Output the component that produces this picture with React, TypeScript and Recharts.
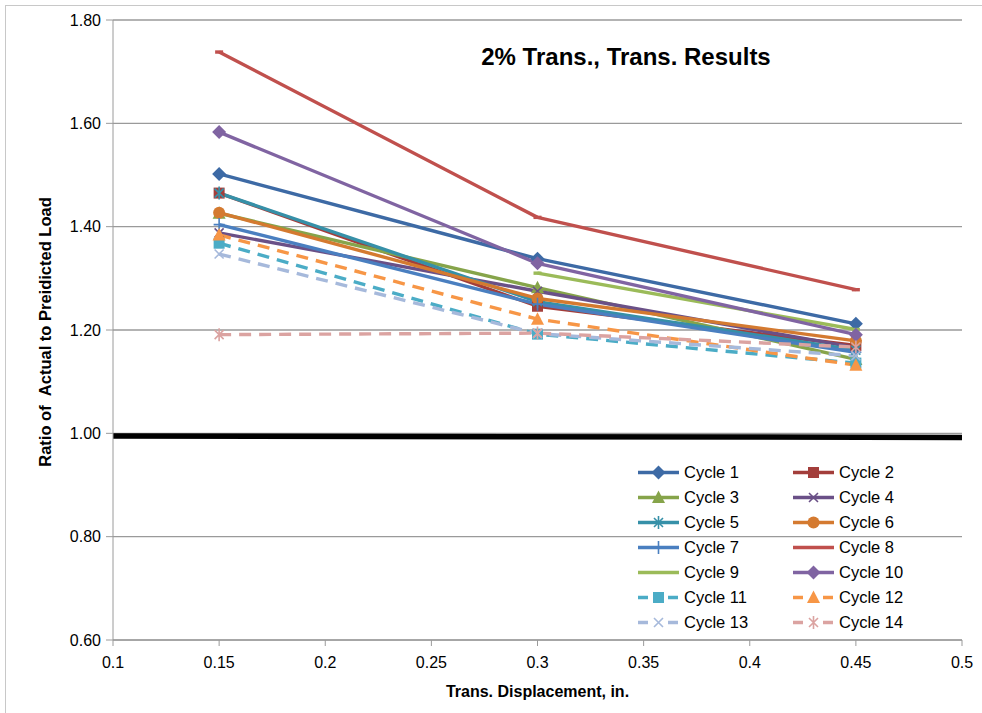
import React from 'react';
import { LineChart, Line, XAxis, YAxis, CartesianGrid, Legend } from 'recharts';

// Transverse displacement (in.) at which each cycle was measured
const displacements = [0.15, 0.3, 0.45];

// Ratio of actual to predicted load, one array per cycle
const cycle1 = [1.502, 1.338, 1.212];
const cycle2 = [1.465, 1.246, 1.170];
const cycle3 = [1.426, 1.282, 1.143];
const cycle4 = [1.388, 1.275, 1.166];
const cycle5 = [1.465, 1.255, 1.161];
const cycle6 = [1.427, 1.261, 1.179];
const cycle7 = [1.404, 1.250, 1.157];
const cycle8 = [1.738, 1.418, 1.278];
const cycle9 = [null, 1.310, 1.201];
const cycle10 = [1.583, 1.329, 1.191];
const cycle11 = [1.368, 1.192, 1.136];
const cycle12 = [1.384, 1.221, 1.132];
const cycle13 = [1.347, 1.193, 1.150];
const cycle14 = [1.191, 1.194, 1.167];

// heavy black line just under 1.00
const unityX = [0.1, 0.5];
const unityY = [0.995, 0.992];

const xTicks = [0.1, 0.15, 0.2, 0.25, 0.3, 0.35, 0.4, 0.45, 0.5];
const yTicks = [0.6, 0.8, 1.0, 1.2, 1.4, 1.6, 1.8];

type Shape = 'diamond' | 'square' | 'triangle' | 'x' | 'star' | 'circle' | 'plus' | 'dash';

const series: { name: string; values: (number | null)[]; color: string; marker: Shape; dashed: boolean }[] = [
    { name: 'Cycle 1', values: cycle1, color: '#3D6AA5', marker: 'diamond', dashed: false },
    { name: 'Cycle 2', values: cycle2, color: '#A33E3B', marker: 'square', dashed: false },
    { name: 'Cycle 3', values: cycle3, color: '#86A44A', marker: 'triangle', dashed: false },
    { name: 'Cycle 4', values: cycle4, color: '#6A5087', marker: 'x', dashed: false },
    { name: 'Cycle 5', values: cycle5, color: '#3690A8', marker: 'star', dashed: false },
    { name: 'Cycle 6', values: cycle6, color: '#D47A30', marker: 'circle', dashed: false },
    { name: 'Cycle 7', values: cycle7, color: '#4A7FC0', marker: 'plus', dashed: false },
    { name: 'Cycle 8', values: cycle8, color: '#C0504D', marker: 'dash', dashed: false },
    { name: 'Cycle 9', values: cycle9, color: '#9BBB59', marker: 'dash', dashed: false },
    { name: 'Cycle 10', values: cycle10, color: '#8064A2', marker: 'diamond', dashed: false },
    { name: 'Cycle 11', values: cycle11, color: '#4BACC6', marker: 'square', dashed: true },
    { name: 'Cycle 12', values: cycle12, color: '#F79646', marker: 'triangle', dashed: true },
    { name: 'Cycle 13', values: cycle13, color: '#A6B9DB', marker: 'x', dashed: true },
    { name: 'Cycle 14', values: cycle14, color: '#DBA3A1', marker: 'star', dashed: true },
];

const FONT = '"Liberation Sans", Arial, sans-serif';
const GRID = '#9a9a9a';

const Marker = ({ cx, cy, shape, color }: { cx?: number; cy?: number; shape: Shape; color: string }) => {
    if (cx == null || cy == null) return <g />;
    switch (shape) {
        case 'diamond':
            return <polygon points={`${cx},${cy - 7} ${cx + 7},${cy} ${cx},${cy + 7} ${cx - 7},${cy}`} fill={color} />;
        case 'square':
            return <rect x={cx - 5.5} y={cy - 5.5} width={11} height={11} fill={color} />;
        case 'triangle':
            return <polygon points={`${cx},${cy - 7} ${cx + 6.5},${cy + 5.5} ${cx - 6.5},${cy + 5.5}`} fill={color} />;
        case 'x':
            return <path d={`M${cx - 4.5},${cy - 4.5}L${cx + 4.5},${cy + 4.5}M${cx + 4.5},${cy - 4.5}L${cx - 4.5},${cy + 4.5}`} stroke={color} strokeWidth={1.6} />;
        case 'star':
            return <path d={`M${cx - 4.5},${cy - 4.5}L${cx + 4.5},${cy + 4.5}M${cx + 4.5},${cy - 4.5}L${cx - 4.5},${cy + 4.5}M${cx},${cy - 6.5}V${cy + 6.5}`} stroke={color} strokeWidth={1.6} />;
        case 'circle':
            return <circle cx={cx} cy={cy} r={6} fill={color} />;
        case 'plus':
            return <path d={`M${cx},${cy - 6.5}V${cy + 6.5}M${cx - 5.5},${cy}H${cx + 5.5}`} stroke={color} strokeWidth={1.6} />;
        case 'dash':
            return <path d={`M${cx - 4},${cy}H${cx + 4}`} stroke={color} strokeWidth={3.4} />;
    }
    return <g />;
};

const renderLegend = () => (
    <div style={{ display: 'grid', gridTemplateColumns: '155px 130px', fontFamily: FONT, fontSize: 16.5, color: '#000' }}>
        {series.map((s) => (
            <div key={s.name} style={{ display: 'flex', alignItems: 'center', height: 25 }}>
                <svg width={48} height={25} style={{ flex: 'none' }}>
                    <line x1={2} x2={43} y1={12.5} y2={12.5} stroke={s.color} strokeWidth={3.4}
                        strokeDasharray={s.dashed ? '10 20' : undefined} />
                    {s.marker !== 'dash' && <Marker cx={22.5} cy={12.5} shape={s.marker} color={s.color} />}
                </svg>
                <span style={{ whiteSpace: 'nowrap' }}>{s.name}</span>
            </div>
        ))}
    </div>
);

export default function App() {
    const unityData = unityX.map((x, i) => ({ x, y: unityY[i] }));

    return (
        <div style={{ position: 'absolute', left: 0, top: 0, width: 982, height: 713, background: '#fff', fontFamily: FONT }}>
            <div style={{ position: 'absolute', left: 5, top: 5, width: 990, height: 720, borderLeft: '1px solid #c8c8c8', borderTop: '1px solid #c8c8c8' }} />
            <div style={{ position: 'absolute', left: 426, top: 45, width: 400, textAlign: 'center', fontSize: 24, lineHeight: '24px', fontWeight: 'bold', zIndex: 2 }}>
                2% Trans., Trans. Results
            </div>
            <LineChart width={982} height={713} margin={{ top: 20, right: 20, bottom: 0, left: 0 }}>
                <CartesianGrid vertical={false} stroke={GRID} strokeWidth={1.3} />
                <XAxis
                    type="number"
                    dataKey="x"
                    domain={[0.1, 0.5]}
                    ticks={xTicks}
                    allowDataOverflow
                    height={73}
                    stroke={GRID}
                    tickSize={6}
                    tickMargin={11}
                    tick={{ fill: '#000', fontSize: 16, fontFamily: FONT }}
                    tickFormatter={(v: number) => String(v)}
                    label={{ value: 'Trans. Displacement, in.', position: 'insideBottom', offset: 16, fill: '#000', fontSize: 16, fontWeight: 'bold', fontFamily: FONT }}
                />
                <YAxis
                    type="number"
                    dataKey="y"
                    domain={[0.6, 1.8]}
                    ticks={yTicks}
                    allowDataOverflow
                    width={113}
                    stroke={GRID}
                    tickSize={7}
                    tickMargin={5}
                    tick={{ fill: '#000', fontSize: 16, fontFamily: FONT }}
                    tickFormatter={(v: number) => v.toFixed(2)}
                    label={{
                        content: () => (
                            <text x={45} y={332} dy="0.36em" transform="rotate(-90 45 332)" textAnchor="middle"
                                fontSize={16.5} fontWeight="bold" fontFamily={FONT} fill="#000">
                                {'Ratio of\u00a0\u00a0Actual to Preidicted Load'}
                            </text>
                        ),
                    }}
                />
                <Line data={unityData} dataKey="y" type="linear" stroke="#000" strokeWidth={5.5} dot={false}
                    activeDot={false} isAnimationActive={false} legendType="none" name="unity" />
                {series.map((s) => {
                    const data = displacements
                        .map((x, i) => ({ x, y: s.values[i] }))
                        .filter((d) => d.y != null);
                    return (
                        <Line
                            key={s.name}
                            name={s.name}
                            data={data}
                            dataKey="y"
                            type="linear"
                            stroke={s.color}
                            strokeWidth={3.4}
                            strokeDasharray={s.dashed ? '12 8' : undefined}
                            strokeLinejoin="round"
                            dot={(p: any) => <Marker key={`${s.name}-${p.index}`} cx={p.cx} cy={p.cy} shape={s.marker} color={s.color} />}
                            activeDot={false}
                            isAnimationActive={false}
                        />
                    );
                })}
                <Legend
                    layout="vertical"
                    align="center"
                    verticalAlign="middle"
                    content={renderLegend}
                    wrapperStyle={{ position: 'absolute', left: 636, top: 459.5, width: 300 }}
                />
            </LineChart>
        </div>
    );
}
